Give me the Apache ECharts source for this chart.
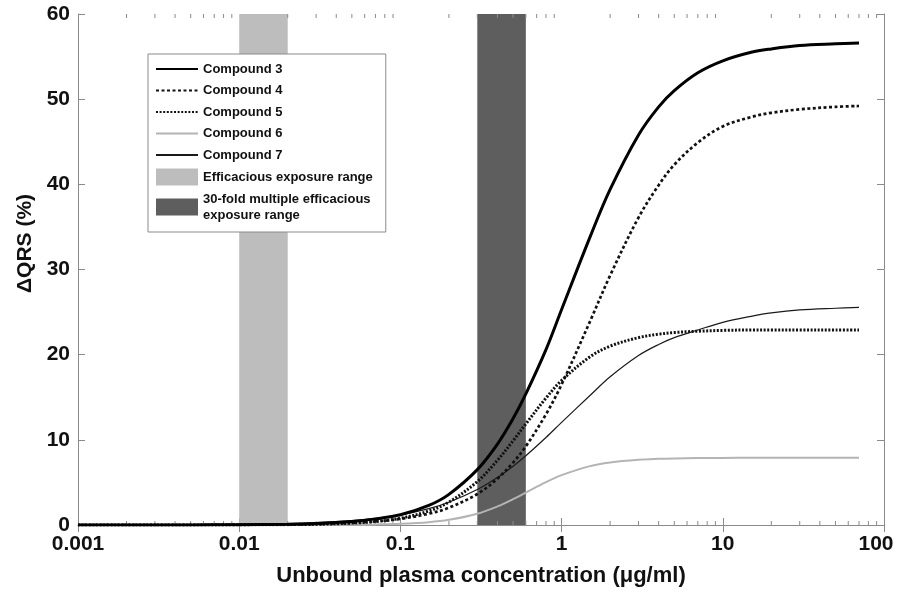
<!DOCTYPE html>
<html>
<head>
<meta charset="utf-8">
<script src="https://cdn.jsdelivr.net/npm/echarts@6/dist/echarts.min.js"></script>
<style>html,body{margin:0;padding:0;background:#fff;}#c{width:899px;height:592px;}</style>
</head>
<body>
<div id="c"></div>
<script>
// ---- data ----
const concentrations = [0.001,0.002,0.005,0.01,0.02,0.03,0.05,0.07,0.1,0.15,0.2,0.3,0.4,0.5,0.6,0.8,1,1.5,2,3,4,5,7,10,15,20,30,50,70];
const compound3 = [0,0,0.01,0.03,0.09,0.18,0.42,0.72,1.2,2.3,3.6,6.5,9.5,12.5,15.4,20.6,25.3,33.8,39.4,45.8,49.1,51.0,53.1,54.5,55.5,55.9,56.3,56.5,56.6];
const compound4 = [0,0,0,0.02,0.06,0.12,0.25,0.42,0.72,1.33,2.03,3.64,5.44,7.33,9.24,13.0,16.5,23.9,29.3,36.1,39.9,42.3,44.9,46.8,47.9,48.4,48.8,49.1,49.2];
const compound5 = [0,0,0,0.01,0.04,0.08,0.22,0.41,0.79,1.64,2.69,5.1,7.6,9.89,11.87,14.9,16.97,19.75,21.0,22.0,22.4,22.6,22.75,22.85,22.9,22.9,22.9,22.9,22.9];
const compound6 = [0,0,0,0,0.004,0.01,0.03,0.065,0.14,0.33,0.61,1.33,2.18,3.03,3.81,5.03,5.85,6.91,7.34,7.66,7.77,7.82,7.86,7.88,7.9,7.9,7.9,7.9,7.9];
const compound7 = [0.004,0.009,0.028,0.068,0.16,0.27,0.51,0.77,1.18,1.92,2.67,4.16,5.59,6.91,8.13,10.27,12.05,15.2,17.4,19.9,21.2,22.0,22.9,23.8,24.5,24.9,25.25,25.45,25.55];
const efficaciousRange = [0.01, 0.02];
const multipleRange = [0.3, 0.6];
const minorTickValues = [0.002,0.003,0.004,0.005,0.006,0.007,0.008,0.009,
  0.02,0.03,0.04,0.05,0.06,0.07,0.08,0.09,
  0.2,0.3,0.4,0.5,0.6,0.7,0.8,0.9,
  2,3,4,5,6,7,8,9,
  20,30,40,50,60,70,80,90];
const xTickLabels = ['0.001','0.01','0.1','1','10','100'];
const yTicks = [0,10,20,30,40,50,60];
const seriesNames = ['Compound 3','Compound 4','Compound 5','Compound 6','Compound 7'];
const bandNames = ['Efficacious exposure range','30-fold multiple efficacious exposure range'];

// ---- chart ----
const FONT = "'Liberation Sans', Arial, Helvetica, sans-serif";
const AX = '#8a8a8a';
const pairs = ys => concentrations.map((x, i) => [x, ys[i]]);

const lineSeries = (name, ys, color, width, type) => ({
  name, type: 'line', data: pairs(ys), smooth: 0.35,
  symbol: 'none', showSymbol: false, z: 3, silent: true,
  itemStyle: { color },
  lineStyle: { color, width, type, cap: 'butt' }
});

const bandSeries = (name, range, color) => ({
  name, type: 'line', data: [], z: 1, silent: true, symbol: 'none',
  itemStyle: { color }, lineStyle: { color, width: 0 },
  markArea: { silent: true, itemStyle: { color, opacity: 1, borderWidth: 0 },
    data: [[{ xAxis: range[0] }, { xAxis: range[1] }]] }
});

const chart = echarts.init(document.getElementById('c'), null, { renderer: 'canvas' });
chart.setOption({
  animation: false,
  backgroundColor: '#fff',
  grid: { left: 78, right: 15, top: 14, bottom: 63 },
  legend: {
    orient: 'vertical', left: 148, top: 54,
    padding: [7, 13, 9, 7],
    itemWidth: 42, itemHeight: 17, itemGap: 5.5,
    backgroundColor: '#fff', borderColor: '#8a8a8a', borderWidth: 1,
    textStyle: { fontFamily: FONT, fontSize: 13, fontWeight: 'bold', color: '#111', lineHeight: 16 },
    selectedMode: false,
    formatter: n => n === bandNames[1] ? '30-fold multiple efficacious\nexposure range' : n,
    data: seriesNames.map(n => ({ name: n, itemStyle: { opacity: 0 } })).concat([
      { name: bandNames[0], icon: 'rect', itemStyle: { color: '#bdbdbd' } },
      { name: bandNames[1], icon: 'rect', itemStyle: { color: '#5e5e5e' } }
    ])
  },
  xAxis: [{
    type: 'log', logBase: 10, min: 0.001, max: 100,
    name: 'Unbound plasma concentration (\u03bcg/ml)', nameLocation: 'middle', nameGap: 40,
    nameTextStyle: { fontFamily: FONT, fontSize: 22, fontWeight: 'bold', color: '#111' },
    axisLine: { lineStyle: { color: AX, width: 1.2 } },
    axisTick: { inside: true, length: 7, lineStyle: { color: AX } },
    splitLine: { show: false },
    axisLabel: {
      fontFamily: FONT, fontSize: 21, fontWeight: 'bold', color: '#111', margin: 9,
      formatter: v => {
        const i = Math.round(Math.log10(v)) + 3;
        const s = xTickLabels[i];
        return i === xTickLabels.length - 1 ? '{last|' + s + '}' : s;
      },
      rich: { last: { fontFamily: FONT, fontSize: 21, fontWeight: 'bold', color: '#111', padding: [0, 16, 0, 0] } }
    }
  }, {
    type: 'log', logBase: 10, min: 0.001, max: 100, position: 'top',
    axisLine: { lineStyle: { color: AX, width: 1 } },
    axisTick: { inside: true, length: 7, lineStyle: { color: AX } },
    axisLabel: { show: false }, splitLine: { show: false }
  }],
  yAxis: [{
    type: 'value', min: yTicks[0], max: yTicks[yTicks.length - 1], interval: 10,
    name: '\u0394QRS (%)', nameLocation: 'middle', nameGap: 42,
    nameTextStyle: { fontFamily: FONT, fontSize: 21, fontWeight: 'bold', color: '#111', padding: [0, 0, 0, 52] },
    axisLine: { show: true, lineStyle: { color: AX, width: 1 } },
    axisTick: { show: true, inside: true, length: 7, lineStyle: { color: AX } },
    splitLine: { show: false },
    axisLabel: { fontFamily: FONT, fontSize: 21, fontWeight: 'bold', color: '#111', margin: 8 }
  }, {
    type: 'value', min: 0, max: 60, interval: 10, position: 'right',
    axisLine: { show: true, lineStyle: { color: AX, width: 1 } },
    axisTick: { show: true, inside: true, length: 7, lineStyle: { color: AX } },
    axisLabel: { show: false }, splitLine: { show: false }
  }],
  series: [
    bandSeries(bandNames[0], efficaciousRange, '#bdbdbd'),
    bandSeries(bandNames[1], multipleRange, '#5e5e5e'),
    lineSeries(seriesNames[3], compound6, '#b4b4b4', 2, 'solid'),
    lineSeries(seriesNames[4], compound7, '#1a1a1a', 1.2, 'solid'),
    lineSeries(seriesNames[2], compound5, '#111', 3, [2, 1.6]),
    lineSeries(seriesNames[1], compound4, '#111', 2.7, [3, 2.5]),
    lineSeries(seriesNames[0], compound3, '#000', 3, 'solid'),
    {
      type: 'custom', silent: true, z: 2,
      data: minorTickValues.map(v => [v, 0]),
      encode: { x: 0, y: 1 },
      renderItem: (params, api) => {
        const v = api.value(0);
        const b = api.coord([v, 0]);
        const t = api.coord([v, 60]);
        const st = { stroke: AX, lineWidth: 1 };
        return { type: 'group', children: [
          { type: 'line', shape: { x1: b[0], y1: b[1], x2: b[0], y2: b[1] - 4 }, style: st },
          { type: 'line', shape: { x1: t[0], y1: t[1], x2: t[0], y2: t[1] + 4 }, style: st }
        ]};
      }
    }
  ]
});
</script>
</body>
</html>
